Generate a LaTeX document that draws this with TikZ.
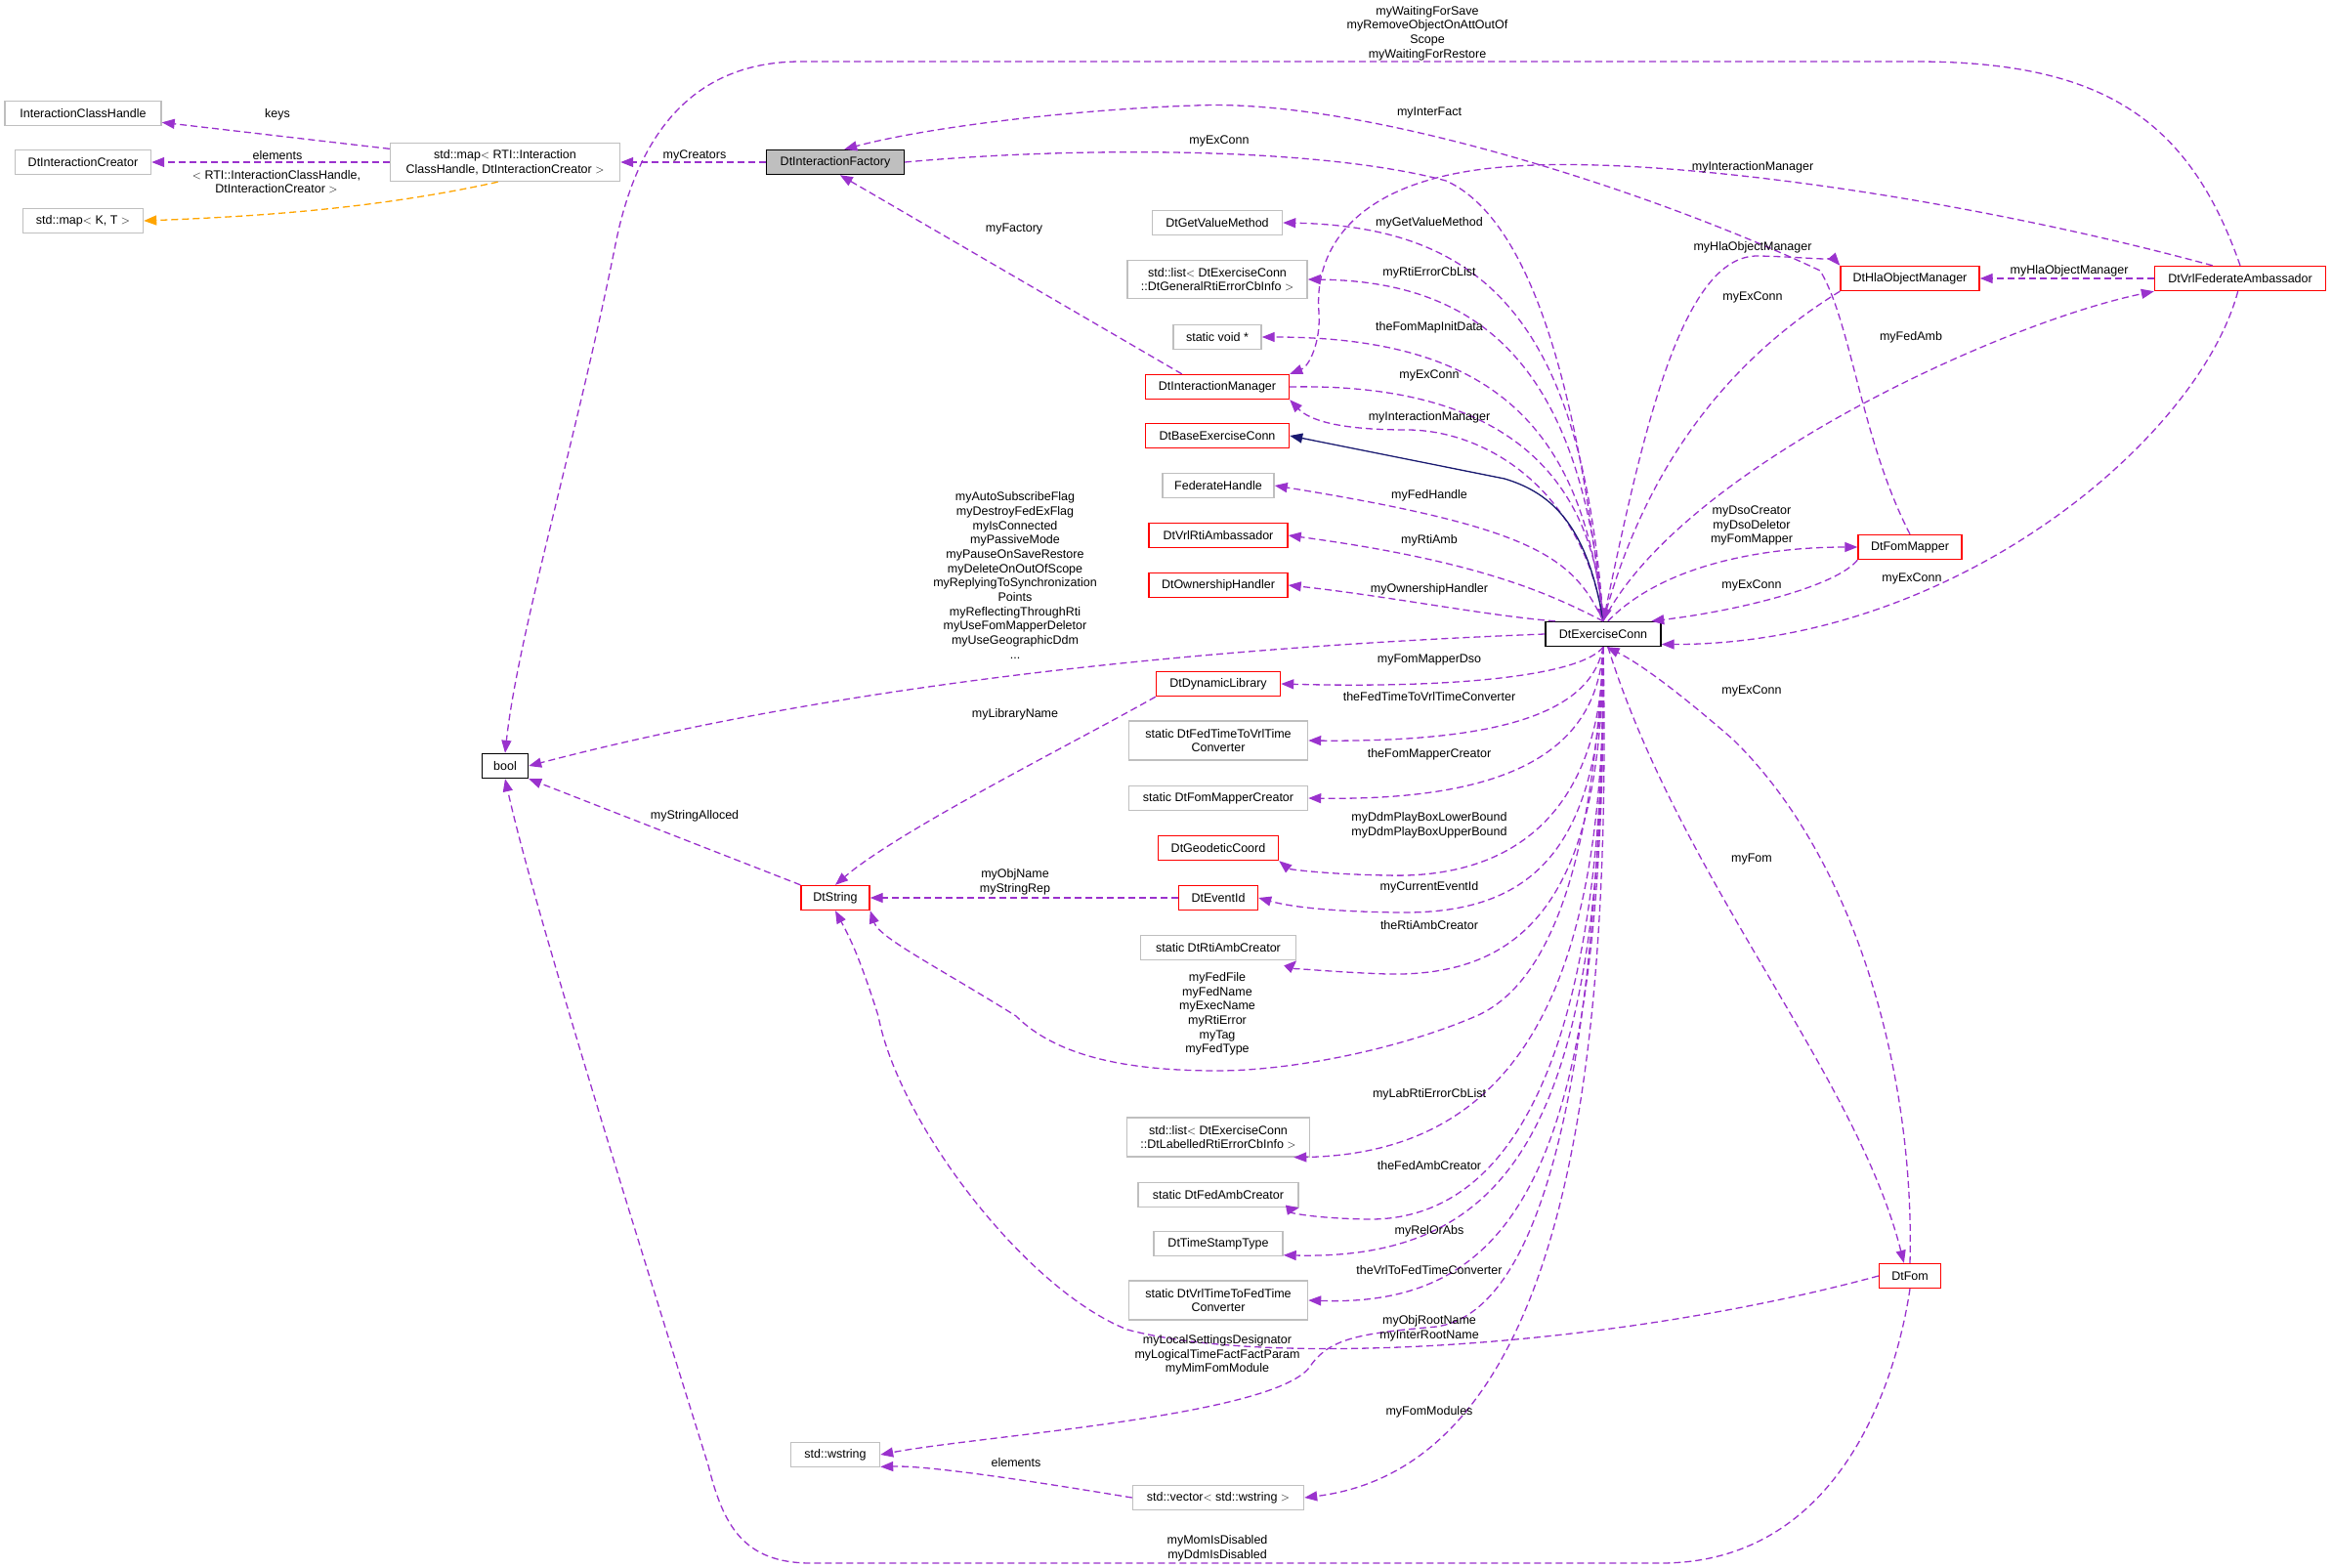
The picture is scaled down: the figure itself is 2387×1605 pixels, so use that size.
\documentclass[tikz,border=0pt]{standalone}
\usepackage{fontspec}
\setmainfont{Liberation Sans}
\usetikzlibrary{arrows.meta}
\definecolor{pur}{RGB}{154,50,205}
\definecolor{org}{RGB}{255,165,0}
\definecolor{nav}{RGB}{25,25,112}
\definecolor{gb}{RGB}{191,191,191}
\begin{document}
\begin{tikzpicture}[x=1pt,y=-1pt,
  every node/.style={font=\fontsize{12.5}{14.7}\selectfont, inner sep=2pt},
  box/.style={draw=gb, line width=1.4pt, fill=white, minimum height=25pt, align=center, inner sep=3pt},
  rbox/.style={box, draw=red},
  kbox/.style={box, draw=black},
  lab/.style={align=center, text=black},
  e/.style={draw=pur, line width=1.3pt, dash pattern=on 7pt off 4pt, -{Triangle[length=13pt,width=10pt]}},
  eo/.style={e, draw=org, -{Triangle[length=13pt,width=10pt,fill=org]}},
  inh/.style={draw=nav, line width=1.3pt, -{Triangle[length=13pt,width=10pt]}}]
\useasboundingbox (0,0) rectangle (2387,1605);
% nodes
\node[box, minimum width=160pt] (ich) at (85,116) {InteractionClassHandle};
\node[box, minimum width=139pt] (dic) at (85,166) {DtInteractionCreator};
\node[box, minimum width=123pt] (mapkt) at (85,226) {std::map$<$ K, T $>$};
\node[box, minimum width=235pt, minimum height=39pt] (map) at (517,166) {std::map$<$ RTI::Interaction\\ClassHandle, DtInteractionCreator $>$};
\node[kbox, fill=gb, minimum width=141pt] (fac) at (855,166) {DtInteractionFactory};
\node[box, minimum width=133pt] (gvm) at (1246,228) {DtGetValueMethod};
\node[box, minimum width=184pt, minimum height=39pt] (rel) at (1246,286) {std::list$<$ DtExerciseConn\\::DtGeneralRtiErrorCbInfo $>$};
\node[box, minimum width=90pt] (svd) at (1246,345) {static void *};
\node[rbox, minimum width=147pt] (im) at (1246,396) {DtInteractionManager};
\node[rbox, minimum width=147pt] (base) at (1246,446) {DtBaseExerciseConn};
\node[rbox, minimum width=142pt] (hla) at (1955,285) {DtHlaObjectManager};
\node[rbox, minimum width=175pt] (vfa) at (2293,285) {DtVrlFederateAmbassador};
\node[box, minimum width=114pt] (fh) at (1247,497) {FederateHandle};
\node[rbox, minimum width=142pt] (vra) at (1247,548) {DtVrlRtiAmbassador};
\node[rbox, minimum width=142pt] (oh) at (1247,599) {DtOwnershipHandler};
\node[kbox, minimum width=118pt] (ex) at (1641,649) {DtExerciseConn};
\node[kbox, minimum width=47pt] (bool) at (517,784) {bool};
\node[rbox, minimum width=127pt] (dl) at (1247,700) {DtDynamicLibrary};
\node[box, minimum width=183pt, minimum height=40pt] (f2v) at (1247,758) {static DtFedTimeToVrlTime\\Converter};
\node[box, minimum width=183pt] (fmc) at (1247,817) {static DtFomMapperCreator};
\node[rbox, minimum width=123pt] (geo) at (1247,868) {DtGeodeticCoord};
\node[rbox, minimum width=81pt] (eid) at (1247,919) {DtEventId};
\node[rbox, minimum width=70pt] (str) at (855,919) {DtString};
\node[box, minimum width=159pt] (rac) at (1247,970) {static DtRtiAmbCreator};
\node[box, minimum width=187pt, minimum height=40pt] (lrel) at (1247,1164) {std::list$<$ DtExerciseConn\\::DtLabelledRtiErrorCbInfo $>$};
\node[box, minimum width=164pt] (fac2) at (1247,1223) {static DtFedAmbCreator};
\node[box, minimum width=132pt] (tst) at (1247,1273) {DtTimeStampType};
\node[box, minimum width=183pt, minimum height=40pt] (v2f) at (1247,1331) {static DtVrlTimeToFedTime\\Converter};
\node[rbox, minimum width=63pt] (fom) at (1955,1306) {DtFom};
\node[box, minimum width=91pt] (wstr) at (855,1489) {std::wstring};
\node[box, minimum width=175pt] (vec) at (1247,1533) {std::vector$<$ std::wstring $>$};
\node[rbox, minimum width=106pt] (fm) at (1955,560) {DtFomMapper};
% edges
\draw[e] (map) -- (ich);
\draw[e] (map.west) -- (dic.east);
\draw[eo] (map.250) .. controls (380,215) and (250,222) .. (mapkt.east);
\draw[e] (fac.west) -- (map.east);
\draw[e] (vfa.north) .. controls (2240,120) and (2150,63) .. (1960,63) -- (820,63) .. controls (700,63) and (650,150) .. (630,250) .. controls (590,450) and (530,650) .. (bool.north);
\draw[e] (fm.north) .. controls (1905,450) and (1895,330) .. (1863,277) .. controls (1700,200) and (1400,100) .. (1223,108) .. controls (1100,112) and (950,130) .. (fac.55);
\draw[e] (fac.east) .. controls (1100,150) and (1350,150) .. (1480,185) .. controls (1580,230) and (1620,450) .. (ex.north);
\draw[e] (vfa.155) .. controls (2000,200) and (1700,160) .. (1552,170) .. controls (1380,180) and (1345,260) .. (1350,320) .. controls (1352,350) and (1340,375) .. (im.north east);
\draw[e] (im.160) -- (fac.290);
\draw[e] (ex.north) .. controls (1620,330) and (1520,232) .. (gvm.east);
\draw[e] (ex.north) .. controls (1620,380) and (1520,288) .. (rel.east);
\draw[e] (ex.north) .. controls (1620,430) and (1520,345) .. (svd.east);
\draw[e] (im.east) .. controls (1520,392) and (1625,470) .. (ex.north);
\draw[e] (ex.north) .. controls (1620,500) and (1520,440) .. (1440,440) .. controls (1370,440) and (1340,430) .. (im.south east);
\draw[inh] (ex.north) .. controls (1625,540) and (1590,505) .. (1540,490) -- (base.east);
\draw[e] (ex.north) .. controls (1610,570) and (1570,540) .. (fh.east);
\draw[e] (ex.north) .. controls (1590,610) and (1520,575) .. (vra.east);
\draw[e] (ex.165) .. controls (1520,630) and (1420,610) .. (oh.east);
\draw[e] (ex.west) .. controls (1300,660) and (900,690) .. (bool.east);
\draw[e] (ex.south) .. controls (1620,690) and (1500,705) .. (dl.east);
\draw[e] (ex.south) .. controls (1630,720) and (1560,760) .. (f2v.east);
\draw[e] (ex.south) .. controls (1635,760) and (1560,820) .. (fmc.east);
\draw[e] (ex.south) .. controls (1640,820) and (1560,900) .. (1420,896) .. controls (1360,895) and (1320,890) .. (geo.south east);
\draw[e] (ex.south) .. controls (1640,880) and (1560,936) .. (1430,934) .. controls (1360,933) and (1320,928) .. (eid.east);
\draw[e] (ex.south) .. controls (1640,920) and (1560,1000) .. (1420,997) .. controls (1360,995) and (1320,990) .. (rac.south east);
\draw[e] (ex.south) .. controls (1630,900) and (1580,1010) .. (1511,1040) .. controls (1430,1075) and (1320,1096) .. (1246,1096) .. controls (1150,1096) and (1080,1080) .. (1040,1040) .. controls (960,990) and (900,960) .. (str.south east);
\draw[e] (ex.south) .. controls (1645,1000) and (1560,1180) .. (lrel.-15);
\draw[e] (ex.south) .. controls (1645,1050) and (1560,1250) .. (1400,1248) .. controls (1340,1247) and (1310,1240) .. (fac2.south east);
\draw[e] (ex.south) .. controls (1645,1150) and (1550,1290) .. (tst.-10);
\draw[e] (ex.south) .. controls (1645,1200) and (1550,1338) .. (v2f.east);
\draw[e] (ex.south) .. controls (1640,1000) and (1600,1340) .. (1470,1358) .. controls (1390,1365) and (1360,1370) .. (1340,1400) .. controls (1300,1450) and (1000,1470) .. (wstr.east);
\draw[e] (ex.south) .. controls (1650,1100) and (1600,1500) .. (vec.east);
\draw[e] (vec.west) .. controls (1050,1515) and (950,1500) .. (wstr.-15);
\draw[e] (ex.-70) .. controls (1720,900) and (1900,1100) .. (fom.115);
\draw[e] (fom.north) .. controls (1960,1100) and (1900,880) .. (1774,757) .. controls (1720,710) and (1680,680) .. (ex.-75);
\draw[e] (fom.west) .. controls (1650,1380) and (1300,1400) .. (1154,1361) .. controls (1050,1320) and (920,1150) .. (899,1040) .. controls (880,980) and (870,960) .. (str.south);
\draw[e] (fom.south) .. controls (1940,1420) and (1880,1600) .. (1700,1600) -- (830,1600) .. controls (760,1600) and (740,1560) .. (725,1500) .. controls (600,1100) and (540,900) .. (bool.south);
\draw[e] (ex.north) .. controls (1680,450) and (1720,260) .. (1800,262) .. controls (1850,263) and (1880,268) .. (hla.north west);
\draw[e] (hla.south west) .. controls (1750,380) and (1680,500) .. (ex.north);
\draw[e] (ex.north) .. controls (1720,480) and (2050,330) .. (vfa.south west);
\draw[e] (vfa.-100) .. controls (2250,450) and (2000,660) .. (ex.-10);
\draw[e] (vfa.west) -- (hla.east);
\draw[e] (ex.70) .. controls (1700,580) and (1800,560) .. (fm.west);
\draw[e] (fm.south west) .. controls (1880,600) and (1780,625) .. (ex.15);
\draw[e] (dl.south west) .. controls (1100,760) and (920,850) .. (str.north);
\draw[e] (eid.west) -- (str.east);
\draw[e] (str.north west) -- (bool.south east);
% labels
\node[lab] (l1) at (284,117) {keys};
\node[lab] (l2) at (284,159) {elements};
\node[lab] (l3) at (283,186) {$<$ RTI::InteractionClassHandle,\\DtInteractionCreator $>$};
\node[lab] (l4) at (711,159) {myCreators};
\node[lab] (l5) at (1461,34) {myWaitingForSave\\myRemoveObjectOnAttOutOf\\Scope\\myWaitingForRestore};
\node[lab] (l6) at (1463,115) {myInterFact};
\node[lab] (l7) at (1248,144) {myExConn};
\node[lab] (l8) at (1794,171) {myInteractionManager};
\node[lab] (l9) at (1038,234) {myFactory};
\node[lab] (l10) at (1463,228) {myGetValueMethod};
\node[lab] (l11) at (1463,279) {myRtiErrorCbList};
\node[lab] (l12) at (1463,335) {theFomMapInitData};
\node[lab] (l13) at (1463,384) {myExConn};
\node[lab] (l14) at (1463,427) {myInteractionManager};
\node[lab] (l15) at (1794,253) {myHlaObjectManager};
\node[lab] (l16) at (1794,304) {myExConn};
\node[lab] (l17) at (1956,345) {myFedAmb};
\node[lab] (l18) at (2118,277) {myHlaObjectManager};
\node[lab] (l19) at (1463,507) {myFedHandle};
\node[lab] (l20) at (1463,553) {myRtiAmb};
\node[lab] (l21) at (1463,603) {myOwnershipHandler};
\node[lab] (l22) at (1039,589) {myAutoSubscribeFlag\\myDestroyFedExFlag\\myIsConnected\\myPassiveMode\\myPauseOnSaveRestore\\myDeleteOnOutOfScope\\myReplyingToSynchronization\\Points\\myReflectingThroughRti\\myUseFomMapperDeletor\\myUseGeographicDdm\\...};
\node[lab] (l23) at (1463,675) {myFomMapperDso};
\node[lab] (l24) at (1463,713) {theFedTimeToVrlTimeConverter};
\node[lab] (l25) at (1463,772) {theFomMapperCreator};
\node[lab] (l26) at (1463,845) {myDdmPlayBoxLowerBound\\myDdmPlayBoxUpperBound};
\node[lab] (l27) at (1463,908) {myCurrentEventId};
\node[lab] (l28) at (1463,947) {theRtiAmbCreator};
\node[lab] (l29) at (1039,731) {myLibraryName};
\node[lab] (l30) at (711,835) {myStringAlloced};
\node[lab] (l31) at (1039,903) {myObjName\\myStringRep};
\node[lab] (l32) at (1246,1038) {myFedFile\\myFedName\\myExecName\\myRtiError\\myTag\\myFedType};
\node[lab] (l33) at (1793,538) {myDsoCreator\\myDsoDeletor\\myFomMapper};
\node[lab] (l34) at (1793,599) {myExConn};
\node[lab] (l35) at (1957,592) {myExConn};
\node[lab] (l36) at (1793,707) {myExConn};
\node[lab] (l37) at (1793,879) {myFom};
\node[lab] (l38) at (1463,1120) {myLabRtiErrorCbList};
\node[lab] (l39) at (1463,1193) {theFedAmbCreator};
\node[lab] (l40) at (1463,1260) {myRelOrAbs};
\node[lab] (l41) at (1463,1300) {theVrlToFedTimeConverter};
\node[lab] (l42) at (1463,1360) {myObjRootName\\myInterRootName};
\node[lab] (l43) at (1246,1387) {myLocalSettingsDesignator\\myLogicalTimeFactFactParam\\myMimFomModule};
\node[lab] (l44) at (1463,1445) {myFomModules};
\node[lab] (l45) at (1040,1497) {elements};
\node[lab] (l46) at (1246,1585) {myMomIsDisabled\\myDdmIsDisabled};
\end{tikzpicture}
\end{document}
